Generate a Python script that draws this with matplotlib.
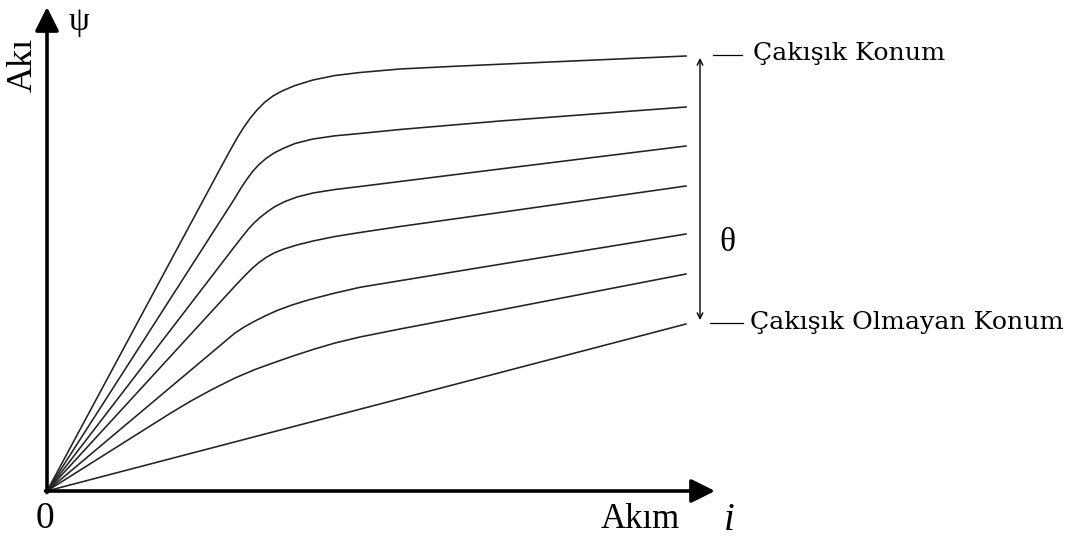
import matplotlib.pyplot as plt

# Flux linkage vs. phase current for rotor positions between
# the unaligned and aligned positions (arbitrary units).
i_1 = [0, 17.3, 17.9, 18.5, 19.1, 19.7, 20.3, 21.0, 21.8, 22.6, 23.5, 24.8, 26.6, 28.8, 31.3, 35.3, 40.3, 50.3, 63.9]
psi_1 = [0, 32.2, 33.3, 34.4, 35.45, 36.4, 37.25, 38.1, 38.9, 39.5, 40.0, 40.55, 41.1, 41.55, 41.85, 42.2, 42.45, 42.9, 43.5]

i_2 = [0, 18.8, 19.4, 20.0, 20.6, 21.2, 21.9, 22.7, 23.6, 24.8, 26.6, 28.8, 31.3, 35.3, 45.3, 63.9]
psi_2 = [0, 29.3, 30.3, 31.2, 32.0, 32.65, 33.25, 33.8, 34.25, 34.75, 35.2, 35.52, 35.75, 36.15, 37.0, 38.4]

i_3 = [0, 18.8, 19.5, 20.1, 20.7, 21.3, 22.0, 22.8, 23.8, 25.0, 26.6, 28.8, 31.3, 35.3, 45.3, 63.9]
psi_3 = [0, 24.5, 25.4, 26.15, 26.8, 27.35, 27.9, 28.45, 28.95, 29.4, 29.8, 30.15, 30.45, 30.95, 32.2, 34.5]

i_4 = [0, 18.8, 19.7, 20.5, 21.2, 21.9, 22.7, 23.7, 25.0, 26.6, 28.8, 31.3, 35.3, 45.3, 63.9]
psi_4 = [0, 20.5, 21.45, 22.25, 22.85, 23.35, 23.8, 24.2, 24.6, 25.0, 25.45, 25.85, 26.45, 27.85, 30.5]

i_5 = [0, 18.8, 19.8, 20.8, 21.8, 23.0, 24.5, 26.3, 28.6, 31.3, 35.3, 45.3, 63.9]
psi_5 = [0, 15.8, 16.45, 17.0, 17.5, 18.05, 18.6, 19.15, 19.75, 20.37, 21.03, 22.67, 25.7]

i_6 = [0, 12.3, 14.3, 16.5, 18.8, 20.8, 22.6, 24.6, 26.6, 28.8, 31.3, 35.3, 45.3, 63.9]
psi_6 = [0, 7.75, 8.95, 10.15, 11.3, 12.15, 12.8, 13.5, 14.15, 14.8, 15.4, 16.2, 18.1, 21.7]

i_7 = [0, 63.9]
psi_7 = [0, 16.7]

curves = [(i_1, psi_1), (i_2, psi_2), (i_3, psi_3), (i_4, psi_4),
          (i_5, psi_5), (i_6, psi_6), (i_7, psi_7)]

fig = plt.figure(figsize=(10.81, 5.43), dpi=100)
ax = fig.add_axes([0, 0, 1, 1])
ax.set_xlim(-4.7, 103.4)
ax.set_ylim(-5.2, 49.1)
ax.axis("off")

for i, psi in curves:
    ax.plot(i, psi, color="#222222", lw=1.15, solid_joinstyle="round")

# axes with arrow heads
arrow = dict(arrowstyle="-|>,head_length=0.4,head_width=0.2", lw=2.6,
             color="black", mutation_scale=36, shrinkA=0, shrinkB=0)
ax.annotate("", xy=(0, 48.4), xytext=(0, -0.15), arrowprops=arrow)
ax.annotate("", xy=(66.8, 0), xytext=(-0.15, 0), arrowprops=arrow)

serif = "Liberation Serif"
ax.text(-2.4, 42.6, "Akı", rotation=90, ha="center", va="center",
        family=serif, fontsize=26)
ax.text(3.2, 46.9, "ψ", ha="center", va="center", family=serif, fontsize=24)
ax.text(-0.2, -2.8, "0", ha="center", va="center", family=serif, fontsize=27)
ax.text(59.3, -2.9, "Akım", ha="center", va="center", family=serif, fontsize=25)
ax.text(68.2, -2.9, "i", ha="center", va="center", family=serif,
        fontsize=28, style="italic")

# rotor position range
ax.annotate("", xy=(65.3, 43.3), xytext=(65.3, 17.1),
            arrowprops=dict(arrowstyle="<->", lw=1.0, color="black",
                            shrinkA=0, shrinkB=0, mutation_scale=10))
ax.text(68.0, 24.8, "θ", ha="center", va="center", family=serif, fontsize=24)

ax.plot([66.6, 69.5], [43.6, 43.6], color="black", lw=0.9)
ax.plot([66.3, 69.6], [16.8, 16.8], color="black", lw=0.9)
ax.text(70.6, 43.8, "Çakışık Konum", ha="left", va="center",
        family="DejaVu Serif", fontsize=18.2)
ax.text(70.3, 16.9, "Çakışık Olmayan Konum", ha="left", va="center",
        family="DejaVu Serif", fontsize=18.2)

fig.savefig("out.png", dpi=100, facecolor="white")
